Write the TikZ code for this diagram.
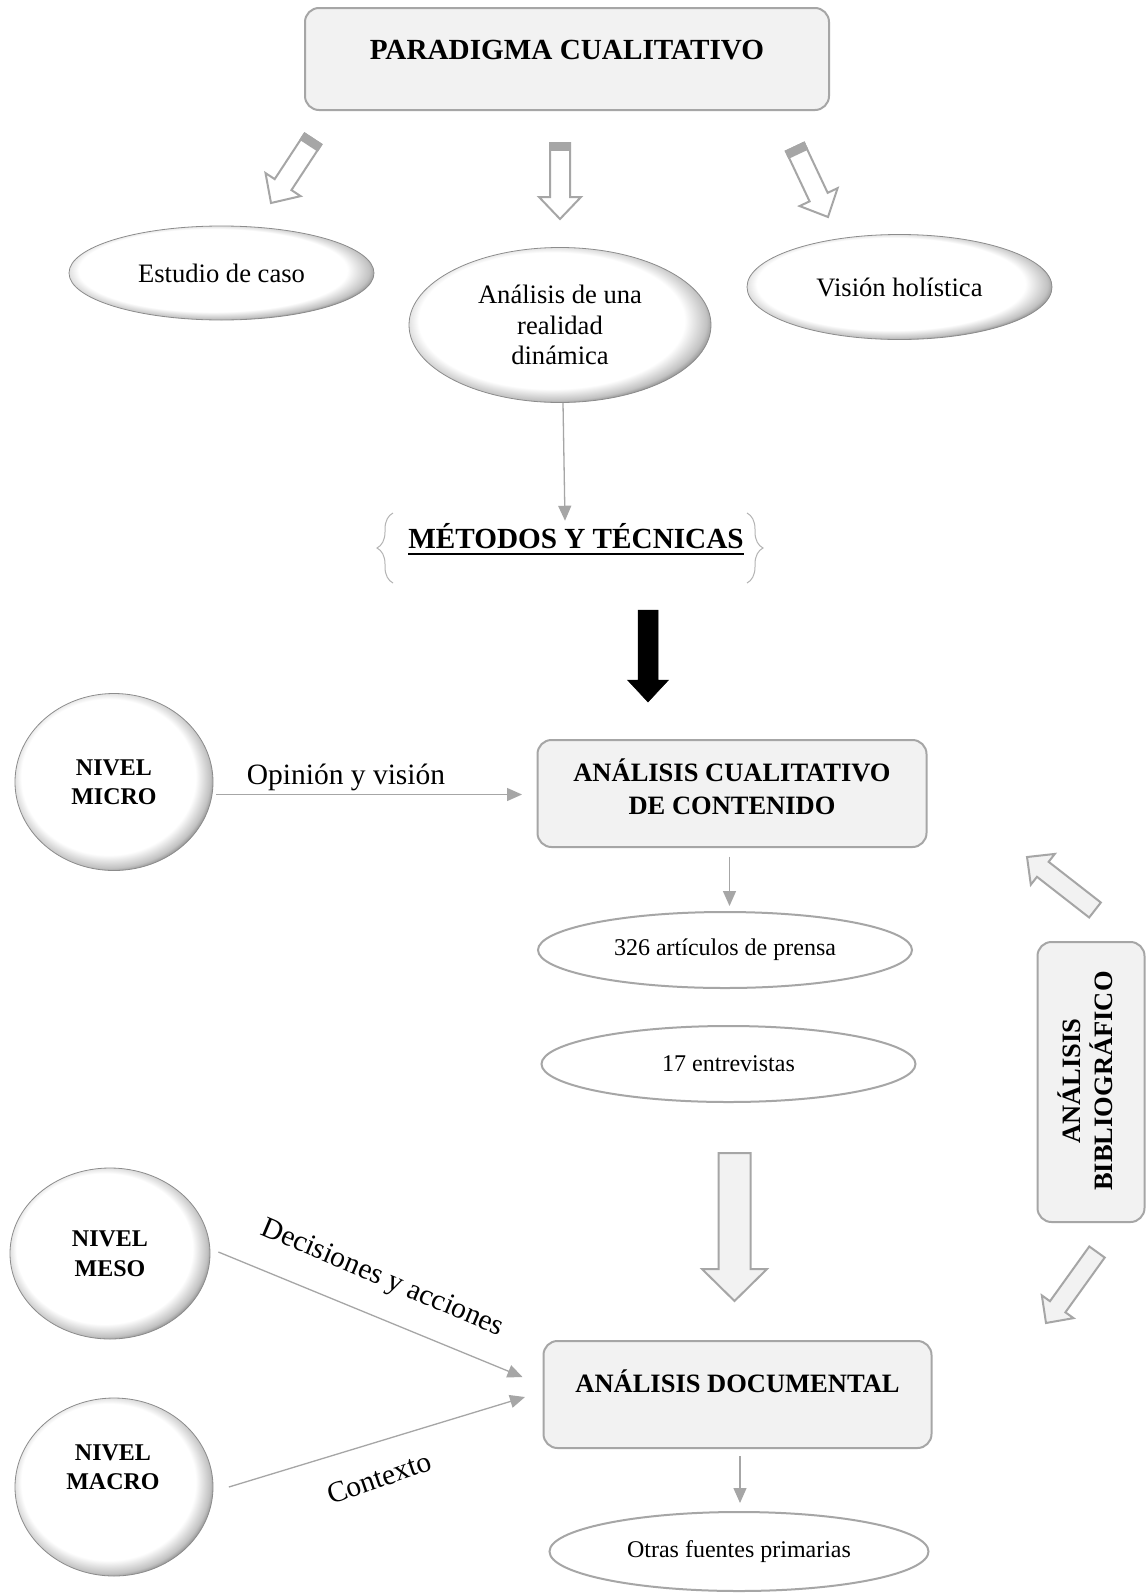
\documentclass[tikz,border=0pt]{standalone}
\usepackage{fontspec}
\setmainfont{Liberation Serif}
\usetikzlibrary{shapes.geometric, arrows.meta, decorations.pathreplacing}

\definecolor{boxline}{HTML}{A6A6A6}
\definecolor{boxfill}{HTML}{F2F2F2}
\definecolor{bandgray}{HTML}{A6A6A6}
\definecolor{bracegray}{HTML}{B4B4B4}

% white disc with a darker rim towards the lower right
\pgfdeclareradialshading{bevel}{\pgfpoint{-2.5bp}{2.5bp}}{%
  color(0bp)=(white); color(22bp)=(white); color(25.5bp)=(black!24);
  color(28bp)=(black!65); color(50bp)=(black!65)}

% block arrow from a tail coordinate to a tip coordinate
% #1 style, #2 tail, #3 tip, #4 shaft half-width, #5 head half-width, #6 head length
\newcommand\blockarrow[6]{%
  \pgfpointdiff{\pgfpointanchor{#2}{center}}{\pgfpointanchor{#3}{center}}%
  \pgfgetlastxy{\bax}{\bay}%
  \pgfmathsetmacro\baang{atan2(\bay,\bax)}%
  \pgfmathsetmacro\balen{veclen(\bax,\bay)}%
  \pgfmathsetmacro\baneck{\balen-#6}%
  \begin{scope}[shift={(#2)}, rotate=\baang]
    \draw[#1] (0pt,#4pt) -- (\baneck pt,#4pt) -- (\baneck pt,#5pt) -- (\balen pt,0pt)
      -- (\baneck pt,-#5pt) -- (\baneck pt,-#4pt) -- (0pt,-#4pt) -- cycle;
  \end{scope}}
% dark band across the tail of the last block arrow
% #1 tail, #2 half-width, #3 band length
\newcommand\tailband[3]{%
  \begin{scope}[shift={(#1)}, rotate=\baang]
    \fill[bandgray] (-1pt,-#2pt) rectangle (#3pt,#2pt);
  \end{scope}}

\tikzset{
  roundbox/.style={draw=boxline, fill=boxfill, line width=2pt, rounded corners=14pt},
  shadedoval/.style={ellipse, shade, shading=bevel, draw=black!45, line width=0.8pt, inner sep=0pt},
  plainoval/.style={ellipse, draw=boxline, fill=white, line width=2pt, inner sep=0pt},
  thinarrow/.style={draw=boxline, line width=1.3pt, -{Triangle[length=15pt,width=13pt]}},
  hollowarrow/.style={draw=boxline, fill=white, line width=2pt},
  softarrow/.style={draw=boxline, fill=boxfill, line width=2pt},
  titlefont/.style={font=\bfseries\fontsize{29.2pt}{34pt}\selectfont},
  headfont/.style={font=\bfseries\fontsize{26.5pt}{32.5pt}\selectfont},
  ovalfont/.style={font=\fontsize{26.6pt}{30.5pt}\selectfont},
  smallfont/.style={font=\fontsize{24pt}{28pt}\selectfont},
  levelfont/.style={font=\bfseries\fontsize{24pt}{29.5pt}\selectfont},
  edgefont/.style={font=\fontsize{29.5pt}{34pt}\selectfont},
}

\begin{document}
\begin{tikzpicture}[x=1pt, y=-1pt]
\fill[white] (0,0) rectangle (1146,1593);
\useasboundingbox (0,0) rectangle (1146,1593);

% ---- paradigm ----
\node[roundbox, minimum width=524pt, minimum height=102pt] (par) at (567,59) {};
\node[titlefont, anchor=base] (partext) at (567,59) {PARADIGMA CUALITATIVO};

\node[shadedoval, ovalfont, minimum width=305pt, minimum height=94pt] (caso) at (221.5,273) {Estudio de caso};
\node[shadedoval, ovalfont, minimum width=302pt, minimum height=155pt, align=center] (real) at (560,325)
  {Análisis de una\\realidad\\dinámica};
\node[shadedoval, ovalfont, minimum width=305pt, minimum height=105pt] (holi) at (899.5,287) {Visión holística};

\coordinate (a1t) at (313,139); \coordinate (a1h) at (271,203);
\coordinate (a2t) at (560,143); \coordinate (a2h) at (560,219);
\coordinate (a3t) at (795,147); \coordinate (a3h) at (828,217);
\blockarrow{hollowarrow}{a1t}{a1h}{10}{21}{22}\tailband{a1t}{11}{8}
\blockarrow{hollowarrow}{a2t}{a2h}{10}{21}{22}\tailband{a2t}{11}{8}
\blockarrow{hollowarrow}{a3t}{a3h}{10}{21}{22}\tailband{a3t}{11}{8}

% ---- methods ----
\node[titlefont, inner sep=0pt, anchor=base] (met) at (576,548) {MÉTODOS Y TÉCNICAS};
\draw[line width=2.6pt] ([yshift=-6pt]met.base west) -- ([yshift=-6pt]met.base east);
\draw[bracegray, line width=1pt, decorate, decoration={brace, amplitude=16pt}] (393,583) -- (393,513);
\draw[bracegray, line width=1pt, decorate, decoration={brace, amplitude=16pt}] (747,513) -- (747,583);
\draw[thinarrow] ([xshift=3pt]real.south) -- ([xshift=-11pt,yshift=2pt]met.north);

\coordinate (bt) at (648,610); \coordinate (bh) at (648,702);
\blockarrow{fill=black, draw=black, line width=0.5pt}{bt}{bh}{10}{20.5}{22}

% ---- content analysis ----
\node[shadedoval, levelfont, minimum width=198pt, minimum height=177pt, align=center] (micro) at (114,782) {NIVEL\\MICRO};
\node[roundbox, minimum width=389pt, minimum height=107pt] (acc) at (732,793.5) {};
\node[headfont, align=center] (acctext) at (732,787) {ANÁLISIS CUALITATIVO\\DE CONTENIDO};
\draw[thinarrow] ([xshift=3pt,yshift=-12.5pt]micro.east) -- ([xshift=-14.5pt,yshift=-1pt]acc.west);
\node[edgefont] (lblop) at (346,777) {Opinión y visión};

\node[plainoval, smallfont, minimum width=374pt, minimum height=76pt] (n326) at (725,950) {326 artículos de prensa};
\node[plainoval, smallfont, minimum width=374pt, minimum height=76pt] (n17) at (728.5,1064) {17 entrevistas};
\draw[thinarrow] ([xshift=-2.5pt,yshift=-8.5pt]acc.south) -- ([xshift=4.5pt,yshift=5pt]n326.north);

\coordinate (bigt) at (734.5,1153); \coordinate (bigh) at (734.5,1301);
\blockarrow{softarrow}{bigt}{bigh}{16}{32.5}{32}

% ---- bibliographic analysis ----
\node[roundbox, minimum width=107pt, minimum height=280pt] (bib) at (1091,1082) {};
\node[headfont, rotate=90, align=center] (bibtext) at (1085,1081) {ANÁLISIS\\BIBLIOGRÁFICO};
\coordinate (u1t) at (1095,910); \coordinate (u1h) at (1027,857);
\coordinate (u2t) at (1097,1252); \coordinate (u2h) at (1046,1323);
\blockarrow{softarrow}{u1t}{u1h}{9.5}{19.5}{20}
\blockarrow{softarrow}{u2t}{u2h}{9.5}{19.5}{20}

% ---- documentary analysis ----
\node[roundbox, minimum width=388pt, minimum height=107pt] (doc) at (737.5,1394.5) {};
\node[headfont, anchor=base] (doctext) at (737.5,1392.8) {ANÁLISIS DOCUMENTAL};
\node[plainoval, smallfont, minimum width=379pt, minimum height=79pt] (otras) at (739,1551.5) {Otras fuentes primarias};
\draw[thinarrow] ([xshift=2.5pt,yshift=-7pt]doc.south) -- ([xshift=1pt,yshift=8pt]otras.north);

\node[shadedoval, levelfont, minimum width=200pt, minimum height=171pt, align=center] (meso) at (110,1253.5) {NIVEL\\MESO};
\node[shadedoval, minimum width=198pt, minimum height=178pt] (macro) at (114,1487) {};
\node[levelfont, align=center] (macrotext) at (113,1467) {NIVEL\\MACRO};

\draw[thinarrow] ([xshift=8pt,yshift=1.5pt]meso.east) -- ([xshift=-20pt,yshift=17.5pt]doc.west);
\draw[thinarrow] ([xshift=15.5pt]macro.east) -- ([xshift=-17.5pt,yshift=-2.5pt]doc.west);
\node[edgefont, rotate=-23] (lbldec) at (382,1279) {Decisiones y acciones};
\node[edgefont, rotate=19] (lblctx) at (379,1478) {Contexto};
\end{tikzpicture}
\end{document}
